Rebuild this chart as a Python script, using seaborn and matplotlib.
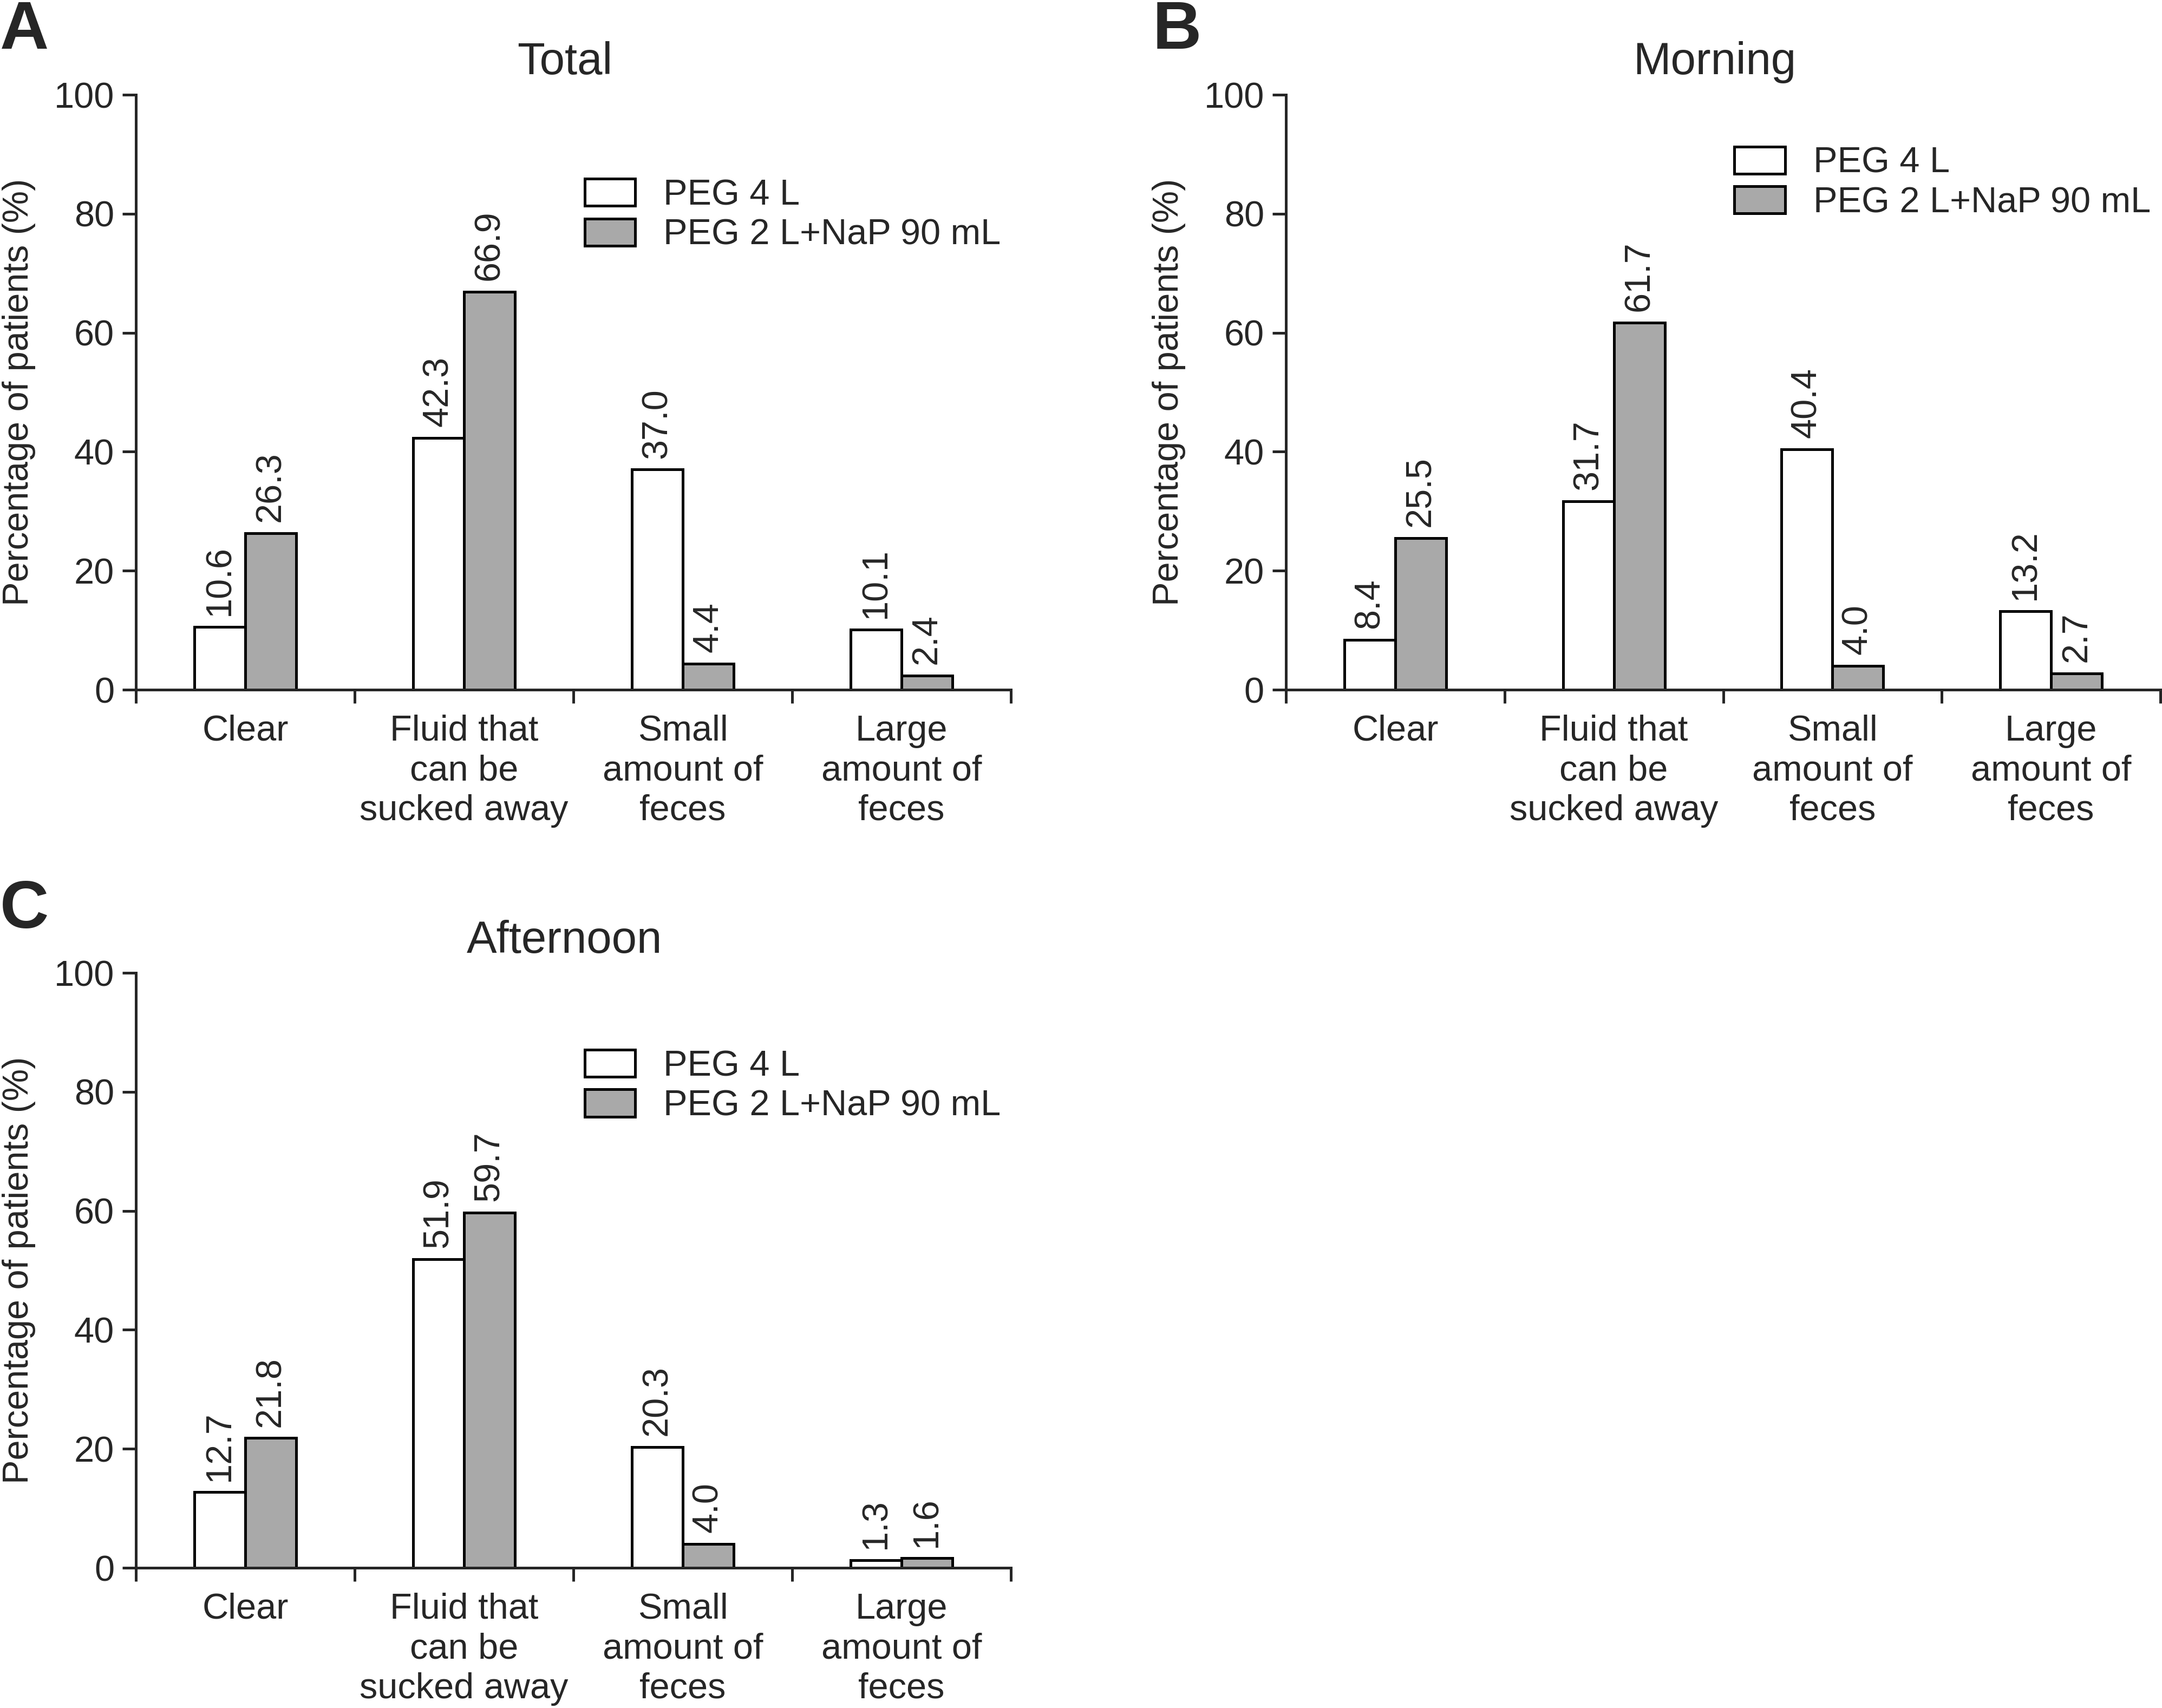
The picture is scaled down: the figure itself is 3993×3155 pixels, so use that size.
import numpy as np
import pandas as pd
import matplotlib
matplotlib.use("Agg")
import matplotlib.pyplot as plt
import seaborn as sns

# ---------------- data ----------------
categories = ["Clear", "Fluid that\ncan be\nsucked away", "Small\namount of\nfeces", "Large\namount of\nfeces"]
groups = ["PEG 4 L", "PEG 2 L+NaP 90 mL"]

total_peg4 = [10.6, 42.3, 37.0, 10.1]
total_peg2 = [26.3, 66.9, 4.4, 2.4]
morning_peg4 = [8.4, 31.7, 40.4, 13.2]
morning_peg2 = [25.5, 61.7, 4.0, 2.7]
afternoon_peg4 = [12.7, 51.9, 20.3, 1.3]
afternoon_peg2 = [21.8, 59.7, 4.0, 1.6]

panel_titles = ["Total", "Morning", "Afternoon"]
panel_letters = ["A", "B", "C"]
y_ticks = [0, 20, 40, 60, 80, 100]
y_label = "Percentage of patients (%)"

colors = {"PEG 4 L": "#ffffff", "PEG 2 L+NaP 90 mL": "#a9a9a9"}

# ---------------- style ----------------
sns.set_style("ticks")
plt.rcParams["font.family"] = ["Liberation Sans", "DejaVu Sans"]
plt.rcParams["axes.linewidth"] = 1.2

W, H = 3993, 3155
fig = plt.figure(figsize=(W / 300, H / 300), dpi=300)


def frame(left, top, right, bottom):
    return [left / W, 1 - bottom / H, (right - left) / W, (bottom - top) / H]


rects = [frame(251, 175, 1867, 1274), frame(2375, 175, 3990, 1274), frame(251, 1797, 1867, 2896)]
legend_tops = [0.859, 0.913, 0.871]
letter_pos = [(0.0, 1 - 90 / H), (2129 / W, 1 - 90 / H), (0.0, 1 - 1714 / H)]

series = [(total_peg4, total_peg2), (morning_peg4, morning_peg2), (afternoon_peg4, afternoon_peg2)]

for i, (s4, s2) in enumerate(series):
    ax = fig.add_axes(rects[i])
    df = pd.DataFrame({
        "category": categories * 2,
        "value": list(s4) + list(s2),
        "group": [groups[0]] * 4 + [groups[1]] * 4,
    })
    sns.barplot(data=df, x="category", y="value", hue="group", hue_order=groups,
                order=categories, palette=colors, edgecolor="black", linewidth=1.2,
                width=0.466, gap=0, legend=False, ax=ax, errorbar=None,
                saturation=1)
    for cont in ax.containers:
        ax.bar_label(cont, fmt="%.1f", rotation=90, padding=5, fontsize=16)

    ax.set_ylim(0, 100)
    ax.set_xlim(-0.5, len(categories) - 0.5)
    ax.set_yticks(y_ticks)
    ax.tick_params(axis="y", labelsize=16, length=6, width=1.2, pad=3.6, direction="out")
    ax.set_xticks(np.arange(len(categories)))
    ax.set_xticklabels(categories, fontsize=16, linespacing=1.24)
    ax.tick_params(axis="x", which="major", length=0, pad=11)
    ax.set_xticks(np.arange(len(categories) + 1) - 0.5, minor=True)
    ax.tick_params(axis="x", which="minor", length=6, width=1.2, direction="out")
    ax.set_xlabel("")
    ax.set_ylabel(y_label, fontsize=16, labelpad=8)
    ax.set_title(panel_titles[i], fontsize=20, pad=9, x=0.49)
    sns.despine(ax=ax)
    for sp in ["left", "bottom"]:
        ax.spines[sp].set_linewidth(1.2)

    leg = ax.legend(ax.containers, groups, loc="upper left",
                    bbox_to_anchor=(0.513, legend_tops[i]), frameon=False,
                    fontsize=16, handlelength=1.4, handleheight=0.78,
                    handletextpad=0.78, labelspacing=0.17, borderpad=0,
                    borderaxespad=0)
    for h in leg.legend_handles:
        h.set_edgecolor("black")
        h.set_linewidth(1.2)

    fig.text(letter_pos[i][0], letter_pos[i][1], panel_letters[i], fontsize=30,
             fontweight="bold", ha="left", va="baseline")

fig.savefig("out.png", dpi=300)
